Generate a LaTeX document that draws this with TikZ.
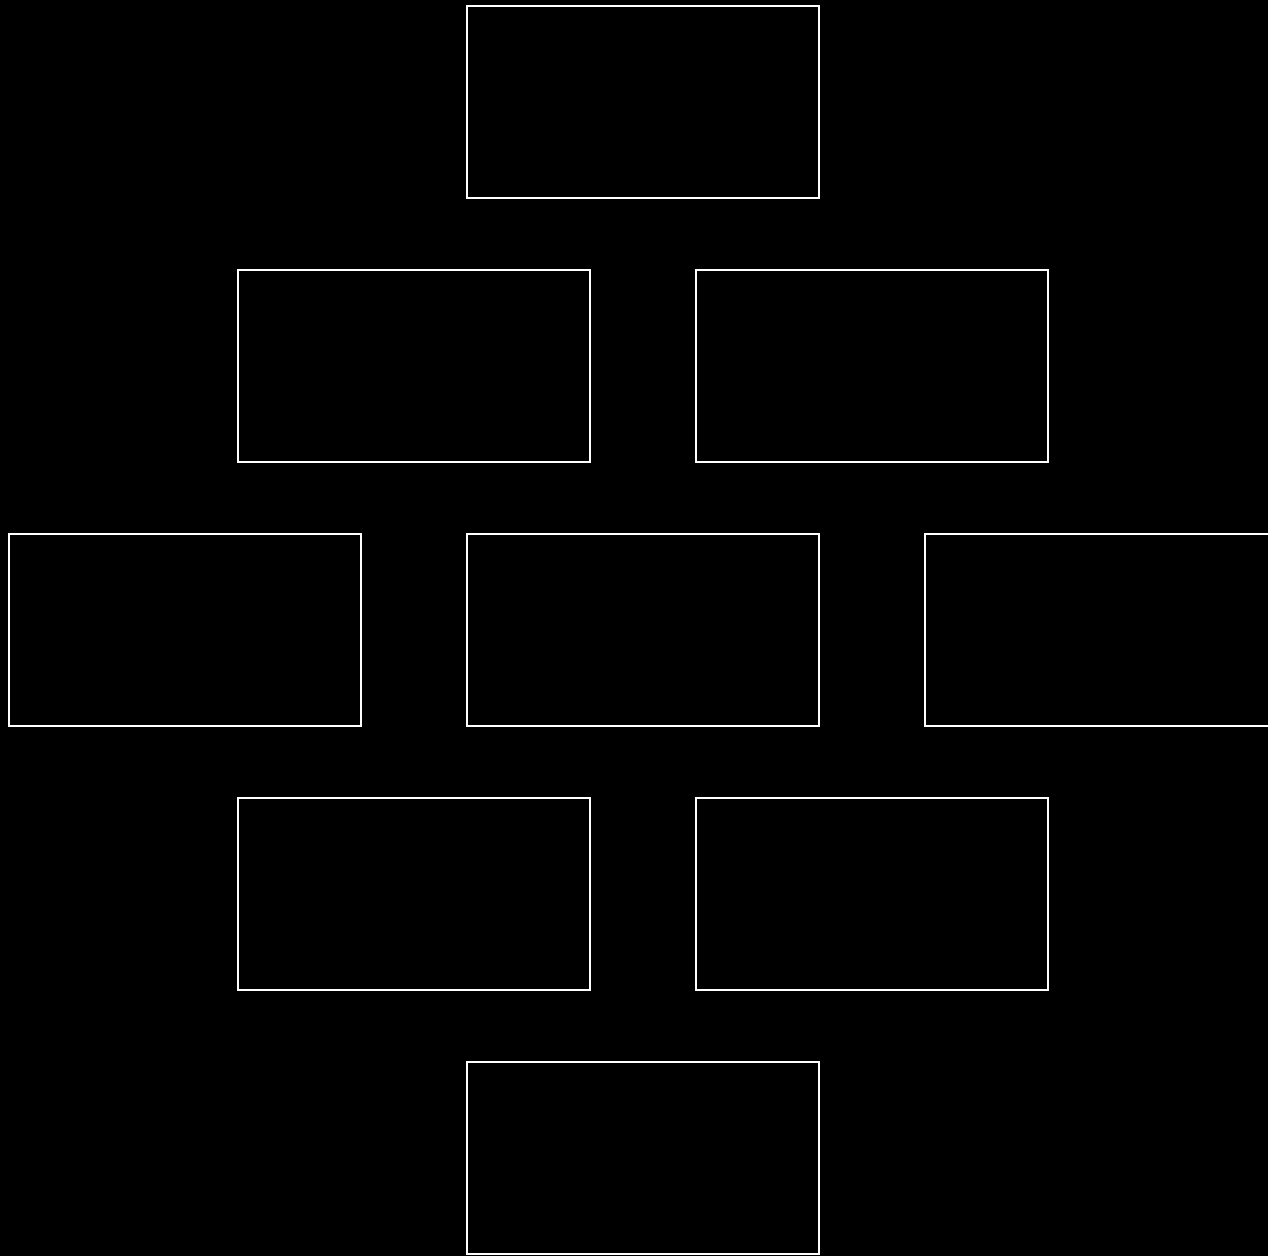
\documentclass[tikz,border=0pt]{standalone}
\begin{document}
\begin{tikzpicture}[x=1pt,y=-1pt,
  box/.style={draw=white, line width=2.5pt, rectangle, minimum width=352pt, minimum height=192pt, inner sep=0pt}]
\fill[black] (0,0) rectangle (1268,1256);
\useasboundingbox (0,0) rectangle (1268,1256);
\clip (0,0) rectangle (1268,1256);
\node[box] (r1) at (643,102) {};
\node[box] (r2a) at (414,366) {};
\node[box] (r2b) at (872,366) {};
\node[box] (r3a) at (185,630) {};
\node[box] (r3b) at (643,630) {};
\node[box] (r3c) at (1101,630) {};
\node[box] (r4a) at (414,894) {};
\node[box] (r4b) at (872,894) {};
\node[box] (r5) at (643,1158) {};
\end{tikzpicture}
\end{document}
